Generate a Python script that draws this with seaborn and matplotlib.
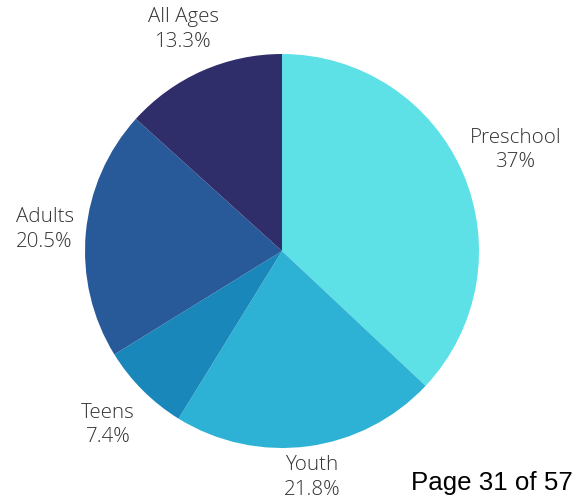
import matplotlib
matplotlib.use("Agg")
import matplotlib.pyplot as plt
import seaborn as sns
import numpy as np

# programme share by age group (clockwise from 12 o'clock)
categories = ["Preschool", "Youth", "Teens", "Adults", "All Ages"]
shares = [37.0, 21.8, 7.4, 20.5, 13.3]
share_labels = ["37%", "21.8%", "7.4%", "20.5%", "13.3%"]
colors = ["#5DE0E6", "#2DB2D5", "#1A87BA", "#285A9A", "#2F2E6B"]
label_dist = [1.29, 1.16, 1.25, 1.21, 1.23]

sns.set_theme(style="white")
plt.rcParams['font.family'] = ['Open Sans', 'DejaVu Sans']

fig = plt.figure(figsize=(5.79, 5.01), dpi=100)
ax = fig.add_axes([0, 0, 1, 1])

wedges, _ = ax.pie(shares, colors=colors, startangle=90, counterclock=False,
                   radius=1.0, center=(0, 0),
                   wedgeprops=dict(linewidth=0, antialiased=True))

for w, name, lab, d in zip(wedges, categories, share_labels, label_dist):
    mid = np.deg2rad((w.theta1 + w.theta2) / 2)
    ax.text(d * np.cos(mid), d * np.sin(mid), name + "\n" + lab,
            ha="center", va="center", fontsize=14.8, fontweight="light",
            color="#333333", linespacing=1.3)

px = 197.0
ax.set_xlim(-282 / px, (579 - 282) / px)
ax.set_ylim(-(501 - 251) / px, 251 / px)
ax.set_aspect("auto")
ax.axis("off")

fig.text(573 / 579, 11 / 501, "Page 31 of 57", ha="right", va="baseline",
         fontsize=18.6, family=["Liberation Sans", "DejaVu Sans"], color="black")

fig.savefig("out.png", dpi=100, facecolor="white")
